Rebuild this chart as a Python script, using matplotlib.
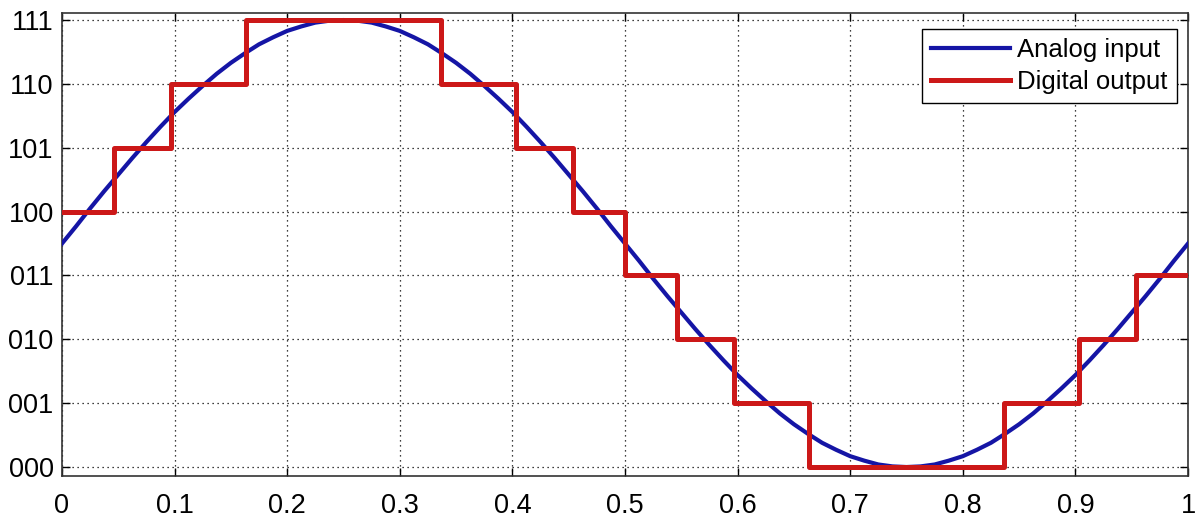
import matplotlib
matplotlib.use("Agg")
import matplotlib.pyplot as plt

plt.rcParams['font.family'] = ['Liberation Sans', 'DejaVu Sans']

# Analog input samples, x step 0.0125
analog_x = [k / 80 for k in range(81)]
analog_y = [3.50, 3.77, 4.05, 4.32, 4.58, 4.84, 5.09, 5.33, 5.56, 5.77,
            5.97, 6.16, 6.33, 6.48, 6.62, 6.73, 6.83, 6.90, 6.96, 6.99,
            7.00, 6.99, 6.96, 6.90, 6.83, 6.73, 6.62, 6.48, 6.33, 6.16,
            5.97, 5.77, 5.56, 5.33, 5.09, 4.84, 4.58, 4.32, 4.05, 3.77,
            3.50, 3.23, 2.95, 2.68, 2.42, 2.16, 1.91, 1.67, 1.44, 1.23,
            1.03, 0.84, 0.67, 0.52, 0.38, 0.27, 0.17, 0.10, 0.04, 0.01,
            0.00, 0.01, 0.04, 0.10, 0.17, 0.27, 0.38, 0.52, 0.67, 0.84,
            1.03, 1.23, 1.44, 1.67, 1.91, 2.16, 2.42, 2.68, 2.95, 3.23, 3.50]

# Digital output step edges and levels
step_edges = [0.0, 0.046, 0.097, 0.163, 0.337, 0.403, 0.454, 0.5, 0.546, 0.597,
              0.663, 0.837, 0.903, 0.954, 1.0]
step_levels = [4, 5, 6, 7, 6, 5, 4, 3, 2, 1, 0, 1, 2, 3]

y_ticks = [0, 1, 2, 3, 4, 5, 6, 7]
y_labels = ['000', '001', '010', '011', '100', '101', '110', '111']
x_ticks = [0, 0.1, 0.2, 0.3, 0.4, 0.5, 0.6, 0.7, 0.8, 0.9, 1]
x_labels = ['0', '0.1', '0.2', '0.3', '0.4', '0.5', '0.6', '0.7', '0.8', '0.9', '1']

fig = plt.figure(figsize=(12.01, 5.21), dpi=100)
ax = fig.add_axes([0.0516, 0.0864, 0.9376, 0.8886])

ax.plot(analog_x, analog_y, color='#1515a5', lw=3.0, label='Analog input', zorder=3)
ax.step(step_edges, step_levels + [step_levels[-1]], where='post',
        color='#cc1818', lw=3.6, label='Digital output', zorder=4)

ax.set_xlim(0, 1)
ax.set_ylim(-0.14, 7.11)
ax.set_xticks(x_ticks)
ax.set_xticklabels(x_labels)
ax.set_yticks(y_ticks)
ax.set_yticklabels(y_labels)
ax.tick_params(direction='in', length=6, width=1, top=True, right=True,
               labelsize=19.5, colors='black')
ax.tick_params(axis='x', pad=12)
ax.tick_params(axis='y', pad=6)
ax.grid(True, color='black', linestyle=(0, (1, 3)), linewidth=0.9)
for s in ax.spines.values():
    s.set_linewidth(1.2)
    s.set_color('#333333')

leg = ax.legend(loc='upper right', fontsize=18.5, handlelength=3.05,
                fancybox=False, framealpha=1, edgecolor='black',
                borderpad=0.35, labelspacing=0.3, handletextpad=0.3,
                borderaxespad=0.0, bbox_to_anchor=(0.990, 0.9655))
leg.get_frame().set_linewidth(1.0)

fig.savefig('out.png', dpi=100)
